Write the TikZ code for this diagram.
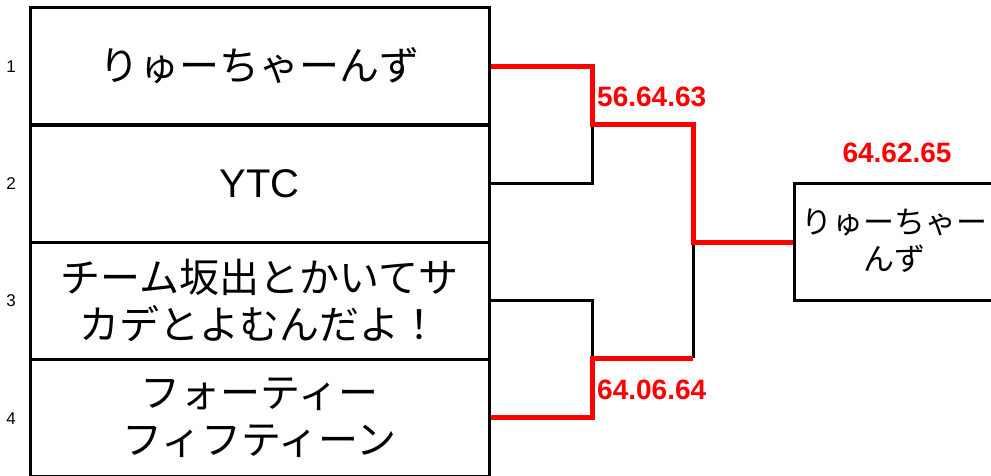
\documentclass[tikz,border=0pt]{standalone}
\usepackage{fontspec}
\setmainfont{Liberation Sans}
\newfontfamily\jpfont{Noto Sans CJK JP}
\begin{document}
\begin{tikzpicture}[x=1pt,y=-1pt,
  teambox/.style={draw,line width=3pt,minimum width=459pt,minimum height=117pt,inner sep=0pt,align=center,font=\jpfont\fontsize{40}{47}\selectfont},
  latinbox/.style={teambox,font=\fontsize{40}{47}\selectfont},
  winbox/.style={draw,line width=3pt,minimum width=206pt,minimum height=117pt,inner sep=0pt,align=center,font=\jpfont\fontsize{31}{37}\selectfont},
  seed/.style={inner sep=0pt,font=\fontsize{17}{19}\selectfont},
  loser/.style={line width=3pt,black},
  winner/.style={line width=5pt,red},
  score/.style={text=red,inner sep=0pt,font=\bfseries\fontsize{28}{32}\selectfont}]
\useasboundingbox (0,0) rectangle (991,475);
\clip (0,0) rectangle (991,475);
% team boxes
\node[teambox] (t1) at (259.5,66) {りゅーちゃーんず};
\node[latinbox] (t2) at (259.5,183.5) {YTC};
\node[teambox] (t3) at (259.5,300.5) {チーム坂出とかいてサ\\カデとよむんだよ！};
\node[teambox] (t4) at (259.5,417.5) {フォーティー\\フィフティーン};
% seeds
\node[seed] (s1) at (11,67) {1};
\node[seed] (s2) at (11,184) {2};
\node[seed] (s3) at (11,301) {3};
\node[seed] (s4) at (11,419) {4};
% winner box
\node[winbox] (win) at (897,242) {};
\node[inner sep=0pt,align=center,font=\jpfont\fontsize{31}{37}\selectfont] (wintext) at (894,241) {りゅーちゃー\\んず};
% junctions
\coordinate (j1) at (592,124);
\coordinate (j2) at (592,358);
\coordinate (q2) at (693,358);
\coordinate (jf) at (693,242);
% losing paths
\draw[loser] (t2.east) -| (j1);
\draw[loser] (t3.east) -| (j2);
\draw[loser] (q2) -- (jf);
% winning paths
\draw[winner] (t1.east) -| (j1) -| (jf) -- (win.west);
\draw[winner] (t4.east) -| (j2) -- (q2);
% scores
\node[score,anchor=west] (sc1) at (597,97) {56.64.63};
\node[score,anchor=west] (sc2) at (597,390) {64.06.64};
\node[score] (sc3) at (897,153) {64.62.65};
\end{tikzpicture}
\end{document}
